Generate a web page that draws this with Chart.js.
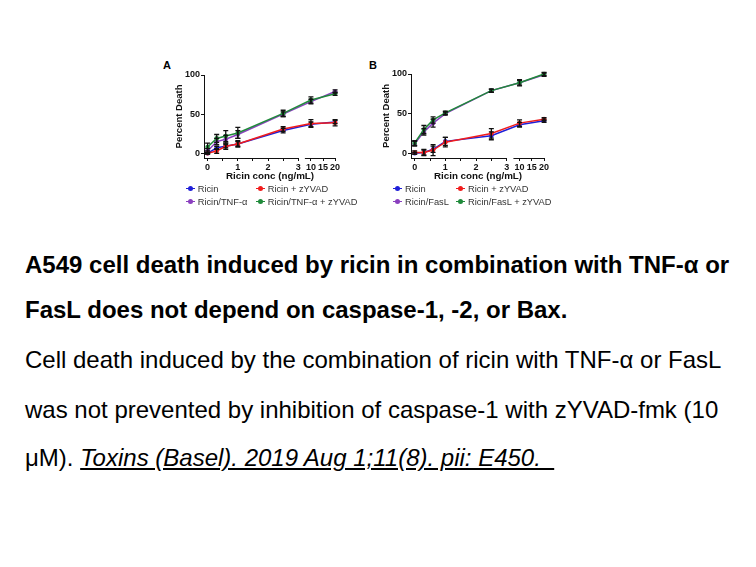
<!DOCTYPE html>
<html>
<head>
<meta charset="utf-8">
<script src="https://cdn.jsdelivr.net/npm/chart.js@4.4.1/dist/chart.umd.min.js"></script>
<style>
  body { margin: 0; background: #fff; font-family: Arial, "Liberation Sans", sans-serif; }
  #page { position: relative; width: 756px; height: 567px; overflow: hidden; }
  .panel { position: absolute; width: 200px; height: 130px; }
  .letter { position: absolute; font-weight: bold; font-size: 11px; }
  .leg { position: absolute; font-size: 9.3px; color: #333; white-space: nowrap; line-height: 11px; }
  .leg i { display: inline-block; position: relative; width: 9px; height: 1px; vertical-align: middle; margin-right: 3px; top: -1px; }
  .leg i b { position: absolute; left: 2px; top: -2px; width: 5px; height: 5px; border-radius: 50%; }
  .cap { position: absolute; left: 25px; font-size: 24px; line-height: 28px; white-space: nowrap; color: #000; }
  .cap.bold { font-weight: bold; }
  .cap a { color: #000; font-style: italic; text-decoration: underline; }
</style>
</head>
<body>
<div id="page">
  <div class="letter" style="left:163px;top:59px;">A</div>
  <div class="letter" style="left:369px;top:59px;">B</div>
  <canvas id="chartA" class="panel" style="left:160px;top:55px;" width="200" height="130"></canvas>
  <canvas id="chartB" class="panel" style="left:360px;top:55px;" width="200" height="130"></canvas>
  <div id="legendA"></div>
  <div id="legendB"></div>

  <div class="cap bold" style="top:251px;">A549 cell death induced by ricin in combination with TNF-α or</div>
  <div class="cap bold" style="top:296px;">FasL does not depend on caspase-1, -2, or Bax.</div>
  <div class="cap" style="top:346px;">Cell death induced by the combination of ricin with TNF-α or FasL</div>
  <div class="cap" style="top:396px;">was not prevented by inhibition of caspase-1 with zYVAD-fmk (10</div>
  <div class="cap" style="top:444px;">μM). <a>Toxins (Basel). 2019 Aug 1;11(8). pii: E450. &nbsp;</a></div>
</div>

<script>
// concentrations (ng/mL), axe cassé entre 3 et 10
const ricinConc = [0, 0.3, 0.6, 1, 2.5, 10, 20];
const majorTicks = [0, 1, 2, 3, 10, 15, 20];
const minorTicks = [0.5, 1.5, 2.5];
const yTicks = [0, 50, 100];

// Panneau A : TNF-α
const aRicin      = [0, 7, 9, 12, 29, 37, 40];
const aRicinErr   = [1, 2, 2, 3, 3, 3, 2];
const aRicinZ     = [0, 3, 9, 12, 31, 38, 39];
const aRicinZErr  = [1, 3, 4, 4, 3, 5, 4];
const aTnf        = [3, 15, 18, 24, 50, 66, 79];
const aTnfErr     = [3, 4, 5, 5, 3, 3, 2];
const aTnfZ       = [8, 19, 22, 26, 51, 68, 76];
const aTnfZErr    = [5, 5, 7, 7, 4, 4, 2];

// Panneau B : FasL
const bRicin      = [0, 1, 5, 15, 22, 36, 41];
const bRicinErr   = [1, 3, 4, 5, 5, 3, 2];
const bRicinZ     = [1, 1, 4, 14, 25, 38, 43];
const bRicinZErr  = [2, 4, 7, 6, 6, 4, 2];
const bFasL       = [12, 27, 38, 50, 79, 89, 99];
const bFasLErr    = [3, 4, 5, 2, 2, 3, 2];
const bFasLZ      = [13, 30, 42, 51, 79, 89, 100];
const bFasLZErr   = [3, 5, 4, 2, 2, 4, 2];

const COL_BLUE = '#1f1fd8';
const COL_RED = '#f01c1c';
const COL_PURPLE = '#8a3fbf';
const COL_GREEN = '#1f8a3a';

// position sur l'axe : linéaire 0-3, puis segment compressé 10-20
function axisPos(v) {
    return v <= 3 ? v : 3.42 + (v - 10) * 0.08;
}

function toPoints(vals, errs) {
    return ricinConc.map((c, i) => ({ x: axisPos(c), y: vals[i], err: errs[i] }));
}

function makeSet(label, vals, errs, color, order) {
    return {
        label: label,
        data: toPoints(vals, errs),
        borderColor: color,
        backgroundColor: color,
        borderWidth: 1.5,
        pointRadius: 2.3,
        pointBorderWidth: 0,
        order: order,
        clip: false
    };
}

// barres d'erreur + axes cassés
const extrasPlugin = {
    id: 'extras',
    afterDatasetsDraw(chart) {
        const ctx = chart.ctx;
        const y = chart.scales.y;
        ctx.save();
        ctx.strokeStyle = '#111';
        ctx.lineWidth = 1.3;
        chart.data.datasets.forEach((ds, di) => {
            const meta = chart.getDatasetMeta(di);
            meta.data.forEach((pt, i) => {
                const e = ds.data[i].err;
                if (!e) return;
                const yTop = y.getPixelForValue(ds.data[i].y + e);
                const yBot = y.getPixelForValue(ds.data[i].y - e);
                ctx.beginPath();
                ctx.moveTo(pt.x, yTop); ctx.lineTo(pt.x, yBot);
                ctx.moveTo(pt.x - 2.5, yTop); ctx.lineTo(pt.x + 2.5, yTop);
                ctx.moveTo(pt.x - 2.5, yBot); ctx.lineTo(pt.x + 2.5, yBot);
                ctx.stroke();
            });
        });
        ctx.restore();
    },
    afterDraw(chart) {
        const ctx = chart.ctx;
        const x = chart.scales.x;
        const y = chart.scales.y;
        const area = chart.chartArea;
        ctx.save();
        ctx.strokeStyle = '#111';
        ctx.lineWidth = 1;
        ctx.beginPath();
        // axe Y
        ctx.moveTo(area.left + 0.5, y.getPixelForValue(100));
        ctx.lineTo(area.left + 0.5, area.bottom);
        // axe X, premier segment
        ctx.moveTo(area.left, area.bottom + 0.5);
        ctx.lineTo(x.getPixelForValue(3), area.bottom + 0.5);
        // axe X, second segment après la coupure
        ctx.moveTo(x.getPixelForValue(3.22), area.bottom + 0.5);
        ctx.lineTo(x.getPixelForValue(axisPos(20)), area.bottom + 0.5);
        ctx.stroke();
        ctx.restore();
    }
};

function buildChart(id, datasets, padding) {
    const tickFont = { family: 'Arial, "Liberation Sans"', size: 9, weight: 'bold' };
    return new Chart(document.getElementById(id), {
        type: 'line',
        data: { datasets: datasets },
        plugins: [extrasPlugin],
        options: {
            responsive: false,
            animation: false,
            layout: { padding: padding },
            plugins: { legend: { display: false }, tooltip: { enabled: false } },
            scales: {
                x: {
                    type: 'linear',
                    min: -0.12,
                    max: 4.25,
                    afterBuildTicks(scale) {
                        scale.ticks = majorTicks.concat(minorTicks).map(v => ({ value: axisPos(v) }));
                    },
                    afterFit(scale) { scale.height = 24; },
                    border: { display: false },
                    grid: { drawOnChartArea: false, drawTicks: true, tickLength: 3, color: '#111' },
                    ticks: {
                        color: '#111',
                        font: tickFont,
                        padding: 1,
                        maxRotation: 0,
                        autoSkip: false,
                        callback(value) {
                            const c = majorTicks.find(t => Math.abs(axisPos(t) - value) < 1e-6);
                            return c === undefined ? '' : String(c);
                        }
                    },
                    title: {
                        display: true,
                        text: 'Ricin conc (ng/mL)',
                        color: '#111',
                        font: { family: 'Arial, "Liberation Sans"', size: 9.8, weight: 'bold' },
                        padding: 0
                    }
                },
                y: {
                    min: -6,
                    max: 100,
                    afterBuildTicks(scale) {
                        scale.ticks = yTicks.map(v => ({ value: v }));
                    },
                    afterFit(scale) { scale.width = 30; },
                    border: { display: false },
                    grid: { drawOnChartArea: false, drawTicks: true, tickLength: 3, color: '#111' },
                    ticks: { color: '#111', font: tickFont, padding: 1 },
                    title: {
                        display: true,
                        text: 'Percent Death',
                        color: '#111',
                        font: { family: 'Arial, "Liberation Sans"', size: 9.5, weight: 'bold' },
                        padding: 0
                    }
                }
            }
        }
    });
}

buildChart('chartA', [
    makeSet('Ricin', aRicin, aRicinErr, COL_BLUE, 4),
    makeSet('Ricin + zYVAD', aRicinZ, aRicinZErr, COL_RED, 2),
    makeSet('Ricin/TNF-α', aTnf, aTnfErr, COL_PURPLE, 3),
    makeSet('Ricin/TNF-α + zYVAD', aTnfZ, aTnfZErr, COL_GREEN, 1)
], { left: 14, right: 24, top: 20, bottom: 3 });

buildChart('chartB', [
    makeSet('Ricin', bRicin, bRicinErr, COL_BLUE, 4),
    makeSet('Ricin + zYVAD', bRicinZ, bRicinZErr, COL_RED, 2),
    makeSet('Ricin/FasL', bFasL, bFasLErr, COL_PURPLE, 3),
    makeSet('Ricin/FasL + zYVAD', bFasLZ, bFasLZErr, COL_GREEN, 1)
], { left: 21, right: 15, top: 19, bottom: 3 });

// légendes HTML en deux colonnes
function buildLegend(id, left, col2, labels) {
    const colors = [COL_BLUE, COL_RED, COL_PURPLE, COL_GREEN];
    const pos = [[left, 183.5], [col2, 183.5], [left, 197], [col2, 197]];
    const box = document.getElementById(id);
    labels.forEach((lab, i) => {
        const d = document.createElement('div');
        d.className = 'leg';
        d.style.left = pos[i][0] + 'px';
        d.style.top = pos[i][1] + 'px';
        d.innerHTML = '<i style="background:' + colors[i] + '"><b style="background:' + colors[i] + '"></b></i>' + lab;
        box.appendChild(d);
    });
}
buildLegend('legendA', 185.7, 255.7, ['Ricin', 'Ricin + zYVAD', 'Ricin/TNF-α', 'Ricin/TNF-α + zYVAD']);
buildLegend('legendB', 393, 456, ['Ricin', 'Ricin + zYVAD', 'Ricin/FasL', 'Ricin/FasL + zYVAD']);
</script>
</body>
</html>
